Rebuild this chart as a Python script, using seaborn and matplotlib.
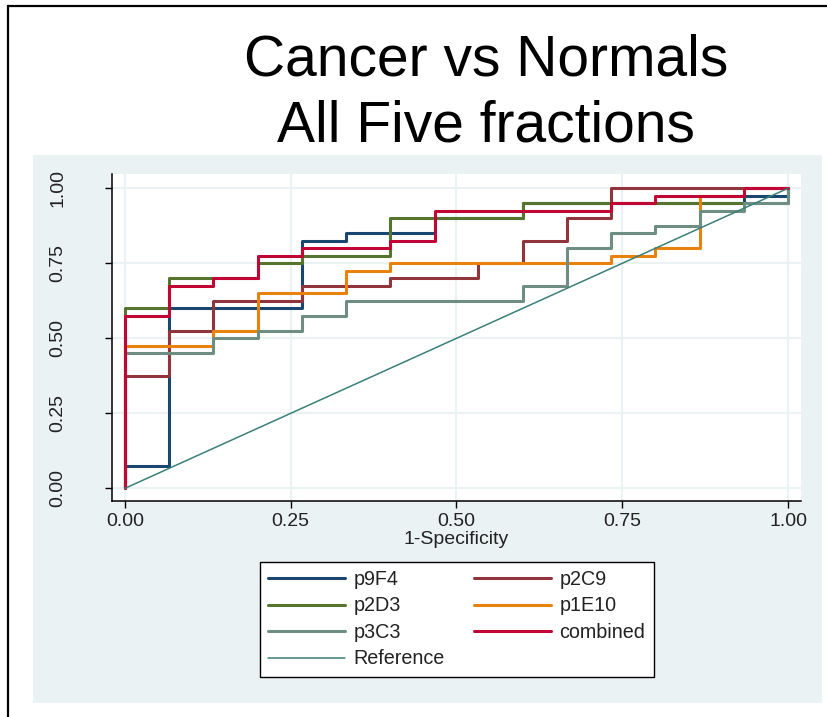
import numpy as np
import matplotlib
matplotlib.use('Agg')
from matplotlib import pyplot as plt
from matplotlib.patches import Rectangle
from matplotlib.lines import Line2D
import seaborn as sns

# ROC step points (1-Specificity, Sensitivity)
fpr_p9f4 = [0.0, 0.0, 0.067, 0.267, 0.333, 0.467, 0.6, 0.933, 1.0]
tpr_p9f4 = [0.0, 0.075, 0.6, 0.825, 0.85, 0.9, 0.95, 0.975, 1.0]

fpr_p2c9 = [0.0, 0.0, 0.067, 0.133, 0.267, 0.4, 0.533, 0.6, 0.667, 0.733, 1.0]
tpr_p2c9 = [0.0, 0.375, 0.525, 0.625, 0.675, 0.7, 0.75, 0.825, 0.9, 1.0, 1.0]

fpr_p2d3 = [0.0, 0.0, 0.067, 0.2, 0.267, 0.4, 0.6, 1.0]
tpr_p2d3 = [0.0, 0.6, 0.7, 0.75, 0.775, 0.9, 0.95, 1.0]

fpr_p1e10 = [0.0, 0.0, 0.133, 0.2, 0.333, 0.4, 0.733, 0.8, 0.867, 0.933, 1.0]
tpr_p1e10 = [0.0, 0.475, 0.525, 0.65, 0.725, 0.75, 0.775, 0.8, 0.975, 1.0, 1.0]

fpr_p3c3 = [0.0, 0.0, 0.133, 0.2, 0.267, 0.333, 0.6, 0.667, 0.733, 0.8, 0.867, 0.933, 1.0]
tpr_p3c3 = [0.0, 0.45, 0.5, 0.525, 0.575, 0.625, 0.675, 0.8, 0.85, 0.875, 0.925, 0.95, 1.0]

fpr_comb = [0.0, 0.0, 0.067, 0.133, 0.2, 0.267, 0.4, 0.467, 0.733, 0.8, 0.933, 1.0]
tpr_comb = [0.0, 0.575, 0.675, 0.7, 0.775, 0.8, 0.825, 0.925, 0.95, 0.975, 1.0, 1.0]

ref_x = [0.0, 1.0]
ref_y = [0.0, 1.0]

ticks = [0.0, 0.25, 0.5, 0.75, 1.0]
tick_labels = ['0.00', '0.25', '0.50', '0.75', '1.00']

series = [
    ('p9F4', fpr_p9f4, tpr_p9f4, '#1a476f'),
    ('p2C9', fpr_p2c9, tpr_p2c9, '#90353b'),
    ('p2D3', fpr_p2d3, tpr_p2d3, '#55752f'),
    ('p1E10', fpr_p1e10, tpr_p1e10, '#e8820c'),
    ('p3C3', fpr_p3c3, tpr_p3c3, '#6e8e84'),
    ('combined', fpr_comb, tpr_comb, '#c10534'),
]

sns.set_style('white')
plt.rcParams['font.family'] = ['Liberation Sans', 'DejaVu Sans']

W, H = 827, 717
fig = plt.figure(figsize=(W / 100, H / 100), dpi=100)
fig.patch.set_facecolor('white')

# stata-like graph region
panel = Rectangle((33.3 / W, 1 - 702.7 / H), (821.7 - 33.3) / W, (702.7 - 155) / H,
                  transform=fig.transFigure, facecolor='#eaf2f3', edgecolor='none', zorder=-1)
fig.add_artist(panel)
fig.add_artist(Line2D([7.5 / W, 7.5 / W], [0, 1 - 6 / H], transform=fig.transFigure,
                      color='black', linewidth=1.6))
fig.add_artist(Line2D([7.5 / W, 1], [1 - 6 / H, 1 - 6 / H], transform=fig.transFigure,
                      color='black', linewidth=1.6))

ax = fig.add_axes([112 / W, 1 - 501 / H, (801 - 112) / W, (501 - 174) / H])
ax.set_facecolor('white')

handles = {}
for name, fx, fy, col in series:
    sns.lineplot(x=fx, y=fy, ax=ax, color=col, linewidth=2.2, drawstyle='steps-post',
                 estimator=None, sort=False)
    handles[name] = Line2D([], [], color=col, linewidth=2.2)

sns.lineplot(x=ref_x, y=ref_y, ax=ax, color='#3a8078', linewidth=1.1, estimator=None, sort=False)
handles['Reference'] = Line2D([], [], color='#3a8078', linewidth=1.1)

ax.set_xlim(-0.0196, 1.0196)
ax.set_ylim(-0.0423, 1.0477)
ax.set_xticks(ticks)
ax.set_xticklabels(tick_labels)
ax.set_yticks(ticks)
ax.set_yticklabels(tick_labels)
ax.grid(True, color='#eaf2f3', linewidth=1.5)
ax.set_axisbelow(True)

for side in ['top', 'right']:
    ax.spines[side].set_visible(False)
for side in ['left', 'bottom']:
    ax.spines[side].set_color('black')
    ax.spines[side].set_linewidth(1.1)

ax.tick_params(axis='both', direction='out', length=5, width=1, color='black',
               labelsize=14, labelcolor='#222222', left=True, bottom=True)
ax.tick_params(axis='x', pad=4)
ax.tick_params(axis='y', pad=28, labelrotation=90)
plt.setp(ax.get_yticklabels(), va='center')

ax.set_xlabel('1-Specificity', fontsize=14, color='#222222', labelpad=0)
ax.set_ylabel('')

# legend, filled column-wise so rows read like the original
order = ['p9F4', 'p2D3', 'p3C3', 'Reference', 'p2C9', 'p1E10', 'combined']
leg = ax.legend([handles[k] for k in order], order, ncol=2, loc='upper center',
                bbox_to_anchor=(456.7 / W, 1 - 561.7 / H), bbox_transform=fig.transFigure,
                fontsize=14.2, frameon=True, fancybox=False, framealpha=1,
                edgecolor='black', handlelength=3.9, handletextpad=0.45,
                columnspacing=1.45, labelspacing=0.38, borderpad=0.42, borderaxespad=0)
leg.get_frame().set_linewidth(1.0)
for t in leg.get_texts():
    t.set_color('#222222')

fig.text(486 / W, 1 - 75 / H, 'Cancer vs Normals', fontsize=41, color='black',
         ha='center', va='baseline')
fig.text(486 / W, 1 - 141.7 / H, 'All Five fractions', fontsize=41, color='black',
         ha='center', va='baseline')

fig.savefig('out.png', dpi=100)
